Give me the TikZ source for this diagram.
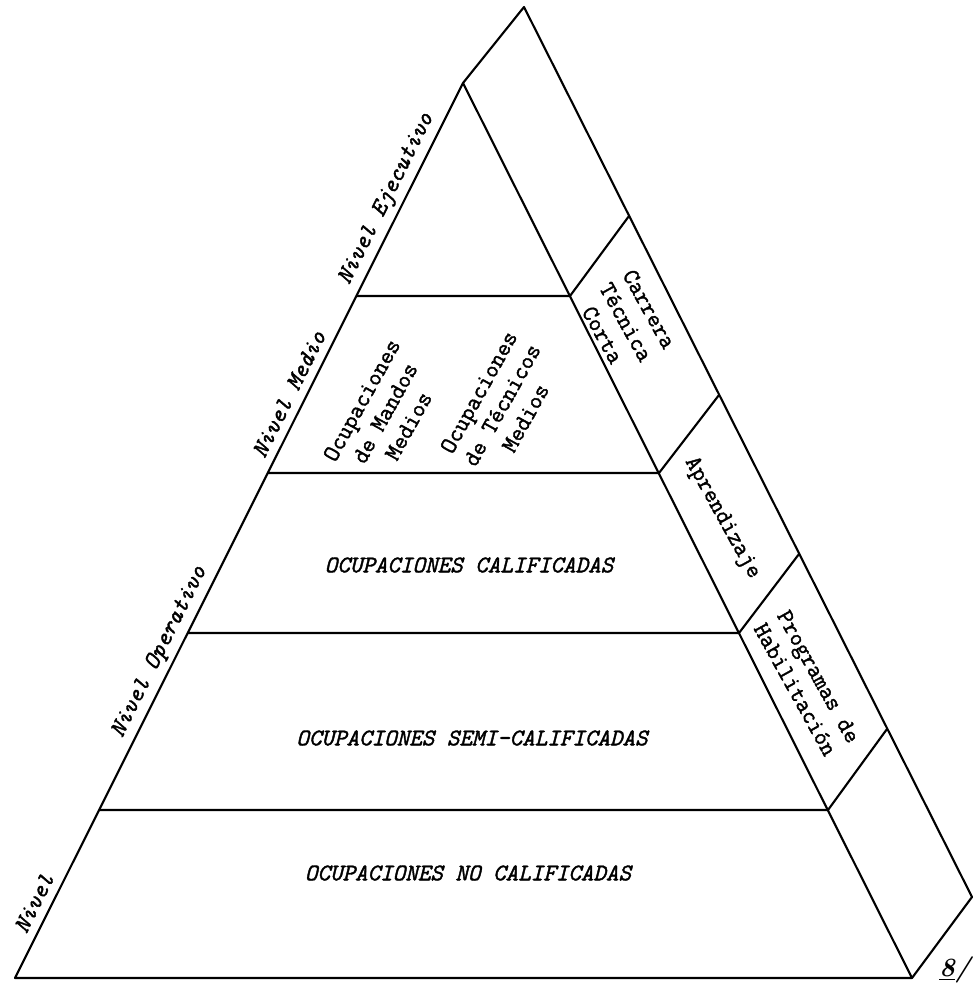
\documentclass[tikz,border=0pt]{standalone}
\usepackage{fontspec}
\usetikzlibrary{calc}
\newfontfamily\typefont{Latin Modern Mono}[FakeBold=1.6]
\newcommand{\pyrfont}{\typefont\fontsize{13.6}{15.2}\selectfont}
\tikzset{
  pyrline/.style={line width=1.2pt,line join=round},
  levellabel/.style={font=\pyrfont\itshape,inner sep=0pt},
  edgelabel/.style={font=\pyrfont\itshape,rotate=63.4,inner sep=0pt},
  occlabel/.style={font=\pyrfont,rotate=61,align=center,inner sep=0pt},
  sidelabel/.style={font=\pyrfont,rotate=-61,align=center,inner sep=0pt}
}

\begin{document}
\begin{tikzpicture}[x=0.02cm,y=-0.02cm]
\useasboundingbox (0,0) rectangle (976,987);
% front face
\coordinate (A) at (463,83);
\coordinate (L) at (15,978);
\coordinate (R) at (912,978);
% back edge
\coordinate (T) at (524,7);
\coordinate (B) at (972,897);
% layer ends
\coordinate (L1) at (356,296); \coordinate (R1) at (570,296);
\coordinate (L2) at (268,473); \coordinate (R2) at (659,473);
\coordinate (L3) at (188,633); \coordinate (R3) at (739,633);
\coordinate (L4) at (99,810);  \coordinate (R4) at (828,810);
% side dividers on the back edge
\coordinate (S1) at (629,216);
\coordinate (S2) at (719,395);
\coordinate (S3) at (799,554);
\coordinate (S4) at (887,729);

\draw[pyrline](L)--(A)--(R)--cycle;
\draw[pyrline](A)--(T)--(B)--(R);
\draw[pyrline](L1)--(R1)--(S1);\draw[pyrline](L2)--(R2)--(S2);\draw[pyrline](L3)--(R3)--(S3);\draw[pyrline](L4)--(R4)--(S4);

\node[edgelabel] (ejec) at (387,199) {Nivel Ejecutivo};
\node[edgelabel] (medio) at (289,394) {Nivel Medio};
\node[edgelabel] (oper) at (160,652) {Nivel Operativo};
\node[edgelabel] (nivel) at (34,903) {Nivel};

\node[occlabel] (mandos) at (385,413) {Ocupaciones\\de Mandos\\Medios};
\node[occlabel] (tecnicos) at (502,405) {Ocupaciones\\de Técnicos\\Medios};
\node[levellabel] (calif) at (469,565) {OCUPACIONES CALIFICADAS};
\node[levellabel] (semi) at (472,738) {OCUPACIONES SEMI-CALIFICADAS};
\node[levellabel] (nocalif) at (468,873) {OCUPACIONES NO CALIFICADAS};

\node[sidelabel] (carrera) at (626,322) {Carrera\\Técnica\\Corta};
\node[sidelabel] (aprend) at (722,518) {Aprendizaje};
\node[sidelabel] (habil) at (807,683) {Programas de\\Habilitación};

\node[font=\rmfamily\bfseries\itshape\fontsize{15}{16}\selectfont,inner sep=0pt] (ref) at (955,970) {\underline{8}/};
\end{tikzpicture}
\end{document}
